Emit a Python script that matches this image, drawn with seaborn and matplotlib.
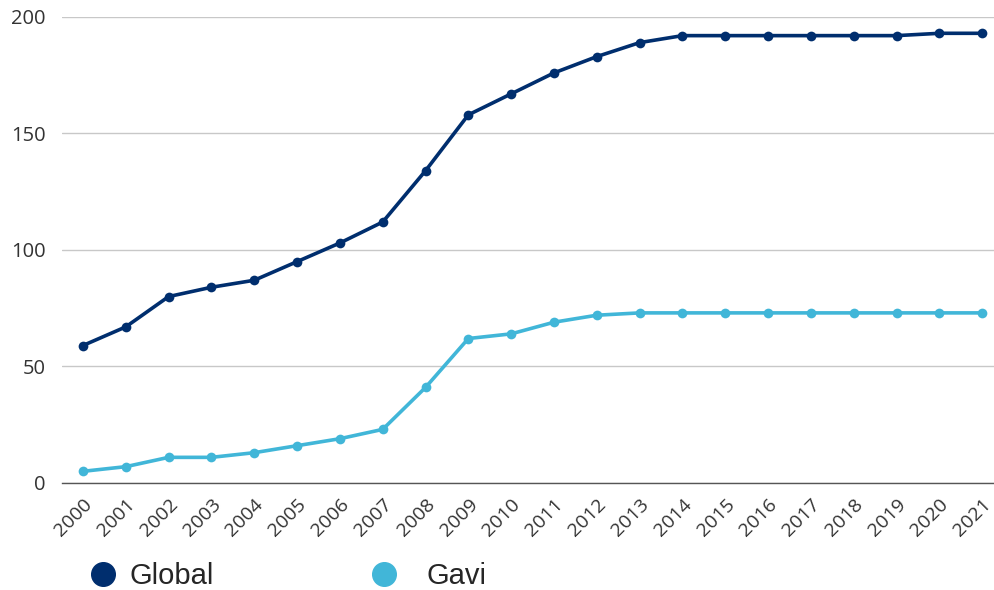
import matplotlib.pyplot as plt
import seaborn as sns
import pandas as pd
from matplotlib.lines import Line2D

years = [str(y) for y in range(2000, 2022)]
global_vals = [59, 67, 80, 84, 87, 95, 103, 112, 134, 158, 167, 176,
               183, 189, 192, 192, 192, 192, 192, 192, 193, 193]
gavi_vals = [5, 7, 11, 11, 13, 16, 19, 23, 41, 62, 64, 69,
             72, 73, 73, 73, 73, 73, 73, 73, 73, 73]
series = ['Global', 'Gavi']
colors = {'Global': '#002e6e', 'Gavi': '#41b6d8'}
y_ticks = [0, 50, 100, 150, 200]

df = pd.DataFrame({
    'year': years * 2,
    'value': global_vals + gavi_vals,
    'series': ['Global'] * len(years) + ['Gavi'] * len(years),
})

sns.set_theme(style="white")
plt.rcParams['font.family'] = ['Open Sans', 'DejaVu Sans']

fig = plt.figure(figsize=(9.95, 5.9), dpi=100)
ax = fig.add_axes([0.0623, 0.1814, 0.9377, 0.7898])

sns.lineplot(data=df, x='year', y='value', hue='series', hue_order=series,
             palette=colors, marker='o', markersize=7, markeredgewidth=0,
             linewidth=2.6, ax=ax, legend=False)

ax.set_ylim(0, 200)
ax.set_yticks(y_ticks)
ax.set_xlim(-0.49, 21.3)
ax.set_xlabel('')
ax.set_ylabel('')
ax.grid(axis='y', color='#c8c8c8', linewidth=1)
ax.set_axisbelow(True)
for s in ['top', 'right', 'left']:
    ax.spines[s].set_visible(False)
ax.spines['bottom'].set_color('#555555')
ax.spines['bottom'].set_linewidth(1)
ax.tick_params(axis='both', length=0, labelsize=14.5, colors='#333333')
ax.tick_params(axis='y', pad=12)
ax.tick_params(axis='x', pad=9, labelsize=14)
plt.setp(ax.get_xticklabels(), rotation=45, ha='right', rotation_mode='anchor')

# two single-entry legends so the text gaps can differ
legend_x = {'Global': (0.0888, 0.42), 'Gavi': (0.3713, 0.97)}
for s in series:
    h = Line2D([], [], linestyle='none', marker='o', markersize=17,
               color=colors[s])
    x, pad = legend_x[s]
    leg = fig.legend([h], [s], loc='center left', bbox_to_anchor=(x, 0.024),
                     frameon=False, handletextpad=pad, borderpad=0,
                     borderaxespad=0, handlelength=1,
                     prop={'family': 'Liberation Sans', 'size': 21})

fig.savefig('out.png', dpi=100)
